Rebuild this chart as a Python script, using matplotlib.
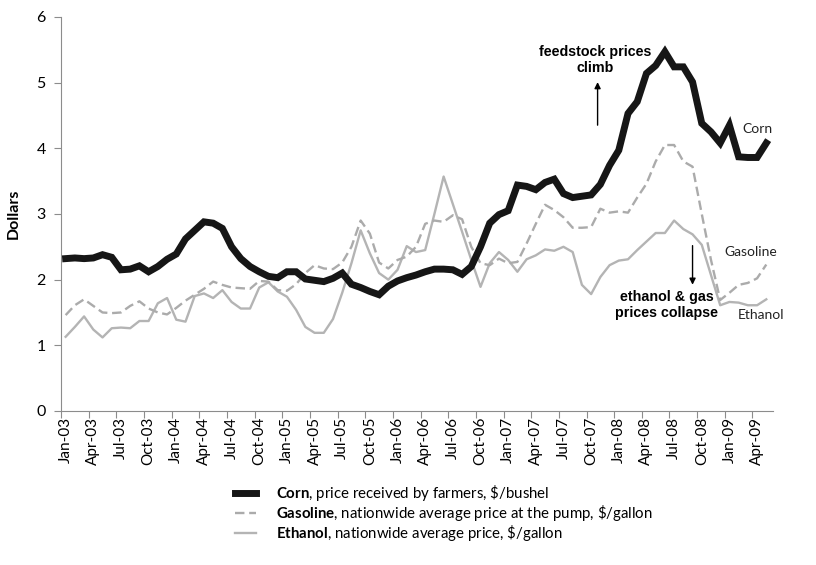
import matplotlib
matplotlib.use("Agg")
import matplotlib.pyplot as plt
import numpy as np

plt.rcParams['font.family'] = ['Lato', 'DejaVu Sans']
plt.rcParams['mathtext.fontset'] = 'custom'
plt.rcParams['mathtext.rm'] = 'Lato'
plt.rcParams['mathtext.bf'] = 'Lato:bold'

# monthly prices, Jan-03 .. May-09
corn = [2.32, 2.33, 2.32, 2.33, 2.38, 2.34, 2.15, 2.16, 2.21, 2.12, 2.20, 2.31,
        2.39, 2.62, 2.75, 2.88, 2.86, 2.78, 2.50, 2.32, 2.20, 2.12, 2.05, 2.03,
        2.12, 2.12, 2.01, 1.99, 1.97, 2.02, 2.10, 1.93, 1.88, 1.82, 1.77, 1.90,
        1.98, 2.03, 2.07, 2.12, 2.16, 2.16, 2.15, 2.08, 2.20, 2.50, 2.86, 2.99,
        3.05, 3.44, 3.42, 3.37, 3.48, 3.53, 3.31, 3.25, 3.27, 3.29, 3.45, 3.74,
        3.97, 4.53, 4.71, 5.14, 5.26, 5.47, 5.24, 5.24, 5.01, 4.38, 4.25, 4.08,
        4.35, 3.87, 3.86, 3.86, 4.08]
gasoline = [1.46, 1.61, 1.70, 1.60, 1.50, 1.49, 1.50, 1.60, 1.67, 1.56, 1.50, 1.47,
            1.57, 1.68, 1.77, 1.86, 1.97, 1.92, 1.88, 1.87, 1.86, 1.98, 1.97, 1.84,
            1.83, 1.93, 2.10, 2.22, 2.17, 2.16, 2.26, 2.50, 2.90, 2.70, 2.26, 2.17,
            2.30, 2.35, 2.50, 2.85, 2.90, 2.88, 2.98, 2.92, 2.50, 2.25, 2.22, 2.32,
            2.25, 2.27, 2.55, 2.85, 3.14, 3.06, 2.95, 2.79, 2.79, 2.80, 3.08, 3.02,
            3.04, 3.02, 3.25, 3.46, 3.80, 4.05, 4.05, 3.80, 3.72, 3.00, 2.30, 1.69,
            1.80, 1.92, 1.95, 2.02, 2.23]
ethanol = [1.13, 1.28, 1.44, 1.24, 1.12, 1.26, 1.27, 1.26, 1.37, 1.37, 1.64, 1.72,
           1.39, 1.36, 1.75, 1.79, 1.72, 1.84, 1.66, 1.56, 1.56, 1.88, 1.96, 1.82,
           1.74, 1.54, 1.28, 1.19, 1.19, 1.40, 1.80, 2.25, 2.75, 2.40, 2.10, 2.00,
           2.15, 2.51, 2.42, 2.45, 3.00, 3.57, 3.15, 2.73, 2.30, 1.89, 2.25, 2.42,
           2.30, 2.12, 2.31, 2.37, 2.46, 2.44, 2.50, 2.42, 1.92, 1.78, 2.04, 2.22,
           2.29, 2.31, 2.45, 2.58, 2.71, 2.71, 2.90, 2.77, 2.69, 2.53, 2.07, 1.61,
           1.66, 1.65, 1.61, 1.61, 1.70]
tick_labels = ["Jan-03", "Apr-03", "Jul-03", "Oct-03", "Jan-04", "Apr-04", "Jul-04",
               "Oct-04", "Jan-05", "Apr-05", "Jul-05", "Oct-05", "Jan-06", "Apr-06",
               "Jul-06", "Oct-06", "Jan-07", "Apr-07", "Jul-07", "Oct-07", "Jan-08",
               "Apr-08", "Jul-08", "Oct-08", "Jan-09", "Apr-09"]

x = np.arange(len(corn))

fig = plt.figure(figsize=(8.16, 5.65), dpi=100)
ax = fig.add_axes([0.0748, 0.2726, 0.8722, 0.6974])

l_eth, = ax.plot(x, ethanol, color="#b4b4b4", lw=1.7, zorder=2)
l_gas, = ax.plot(x, gasoline, color="#ababab", lw=1.7, ls=(0, (4, 2)), zorder=3)
l_corn, = ax.plot(x, corn, color="#161616", lw=5, solid_joinstyle="miter", zorder=4)

ax.set_xlim(-0.5, 76.7)
ax.set_ylim(0, 6)
ax.set_yticks(range(7))
ax.set_xticks(np.arange(-0.5, 76, 3))
ax.set_xticklabels([])
ax.set_xticks(np.arange(0, 77, 3), tick_labels, minor=True)
ax.tick_params(axis="x", which="minor", length=0, rotation=90, labelsize=11, pad=4)
ax.tick_params(axis="x", which="major", length=5, color="#8c8c8c", direction="out")
ax.tick_params(axis="y", length=5, color="#8c8c8c", labelsize=11.5, pad=6)
for side in ["top", "right"]:
    ax.spines[side].set_visible(False)
for side in ["left", "bottom"]:
    ax.spines[side].set_color("#8c8c8c")
ax.set_ylabel("Dollars", fontsize=11.5, fontweight="bold", labelpad=11)

# annotations
bold = dict(family=["Liberation Sans Narrow", "Liberation Sans"], fontweight="bold",
            fontsize=10.3, ha="center", va="center")
ax.text(57.4, 5.34, "feedstock prices\nclimb", linespacing=1.2, **bold)
ax.annotate("", xy=(57.7, 5.05), xytext=(57.7, 4.31),
            arrowprops=dict(arrowstyle="-|>", color="black", lw=1, mutation_scale=9))
ax.text(65.2, 1.61, "ethanol & gas\nprices collapse", linespacing=1.2, **bold)
ax.annotate("", xy=(68.0, 1.88), xytext=(68.0, 2.56),
            arrowprops=dict(arrowstyle="-|>", color="black", lw=1, mutation_scale=9))

ax.text(75.0, 4.29, "Corn", fontsize=10, ha="center", va="center", color="#222222")
ax.text(74.3, 2.42, "Gasoline", fontsize=10, ha="center", va="center", color="#222222")
ax.text(75.4, 1.46, "Ethanol", fontsize=10, ha="center", va="center", color="#222222")

labels = [r"$\bf{Corn}$, price received by farmers, \$/bushel",
          r"$\bf{Gasoline}$, nationwide average price at the pump, \$/gallon",
          r"$\bf{Ethanol}$, nationwide average price, \$/gallon"]
fig.legend([l_corn, l_gas, l_eth], labels, loc="upper left",
           bbox_to_anchor=(0.281, 0.155), frameon=False, fontsize=10.8,
           handlelength=1.4, handletextpad=1.3, labelspacing=0.0,
           borderaxespad=0)

fig.savefig("out.png", dpi=100)
